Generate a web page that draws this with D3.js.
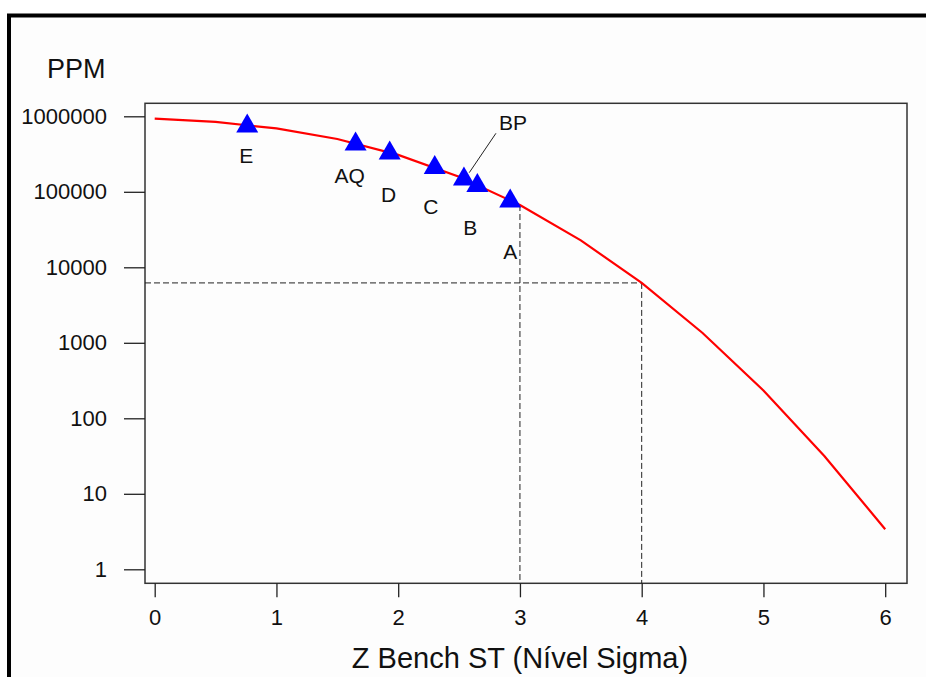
<!DOCTYPE html>
<html>
<head>
<meta charset="utf-8">
<script src="https://cdn.jsdelivr.net/npm/d3@7"></script>
<style>
  html, body { margin: 0; padding: 0; background: #ffffff; }
  svg { display: block; }
  text { font-family: "Liberation Sans", Arial, sans-serif; fill: #111; }
</style>
</head>
<body>
<svg id="chart" width="926" height="677"></svg>
<script>
// ---- data ----
const curveZ   = [0, 0.5, 1, 1.5, 2, 2.5, 3, 3.5, 4, 4.5, 5, 5.5, 6];
const curvePPM = [933193, 841345, 691462, 500000, 308538, 158655, 66807, 22750, 6210, 1350, 233, 31.7, 3.4];

const pointNames = ["E", "AQ", "D", "C", "BP", "B", "A"];
const pointZ     = [0.76, 1.65, 1.93, 2.30, 2.54, 2.65, 2.92];
const pointPPM   = [815000, 471000, 358000, 230000, 162000, 133000, 82800];

const xTicks = [0, 1, 2, 3, 4, 5, 6];
const yTicks = [1, 10, 100, 1000, 10000, 100000, 1000000];
const yTickLabels = ["1", "10", "100", "1000", "10000", "100000", "1000000"];

const refZ = [3, 4];
const refPPM = [66807, 6210];

const xTitle = "Z Bench ST (Nível Sigma)";
const yTitle = "PPM";

// ---- layout (pixels) ----
const frame = { left: 145, top: 103.3, right: 907, bottom: 583.3 };
const labelOffsets = {
  E: [-1, 40], AQ: [-6, 42], D: [-1, 52], C: [-4, 50], BP: [49, -46], B: [-7, 52.5], A: [0, 61]
};
const FONT = '"Liberation Sans", Arial, sans-serif';

const svg = d3.select("#chart");

// outer thick border
svg.append("rect").attr("x", 9).attr("y", 15.5).attr("width", 1000).attr("height", 1000)
  .attr("fill", "#fdfdfd").attr("stroke", "#000").attr("stroke-width", 4);

const x = d3.scaleLinear().domain([0, 6]).range([154.7, 885.2]);
const y = d3.scaleLog().domain([1, 1e6]).range([569.3, 116.3]);

// plot frame
svg.append("rect").attr("x", frame.left).attr("y", frame.top)
  .attr("width", frame.right - frame.left).attr("height", frame.bottom - frame.top)
  .attr("fill", "none").attr("stroke", "#333").attr("stroke-width", 1.5);

// y axis
const yAxis = d3.axisLeft(y).tickValues(yTicks).tickSize(21).tickPadding(17)
  .tickFormat((d, i) => yTickLabels[i]);
const gy = svg.append("g").attr("transform", `translate(${frame.left},0)`).call(yAxis);
gy.select(".domain").remove();
gy.selectAll(".tick line").attr("stroke", "#222").attr("stroke-width", 1.3);
gy.selectAll(".tick text").attr("font-size", 22).attr("fill", "#111").attr("font-family", FONT);

// x axis
const xAxis = d3.axisBottom(x).tickValues(xTicks).tickSize(14).tickPadding(12).tickFormat(d3.format("d"));
const gx = svg.append("g").attr("transform", `translate(0,${frame.bottom})`).call(xAxis);
gx.select(".domain").remove();
gx.selectAll(".tick line").attr("stroke", "#222").attr("stroke-width", 1.3);
gx.selectAll(".tick text").attr("font-size", 22).attr("fill", "#111").attr("font-family", FONT);

// titles
svg.append("text").attr("x", 47).attr("y", 78).attr("font-size", 27).text(yTitle);
svg.append("text").attr("x", 520).attr("y", 668).attr("text-anchor", "middle")
  .attr("font-size", 29).text(xTitle);

// reference dashed lines
const dash = "6,3";
refZ.forEach((z, i) => {
  svg.append("line").attr("x1", x(z)).attr("x2", x(z))
    .attr("y1", y(refPPM[i])).attr("y2", frame.bottom)
    .attr("stroke", "#222").attr("stroke-width", 1).attr("stroke-dasharray", dash);
});
svg.append("line").attr("x1", frame.left).attr("x2", x(refZ[1]))
  .attr("y1", y(refPPM[1])).attr("y2", y(refPPM[1]))
  .attr("stroke", "#222").attr("stroke-width", 1).attr("stroke-dasharray", dash);

// curve
const line = d3.line().x(d => x(d[0])).y(d => y(d[1]));
svg.append("path").datum(curveZ.map((z, i) => [z, curvePPM[i]]))
  .attr("d", line).attr("fill", "none").attr("stroke", "#ff0000").attr("stroke-width", 2.2);

// BP leader line
const bpIdx = pointNames.indexOf("BP");
svg.append("line")
  .attr("x1", x(pointZ[bpIdx]) + 5.3).attr("y1", y(pointPPM[bpIdx]) - 3.3)
  .attr("x2", x(pointZ[bpIdx]) + 32).attr("y2", y(pointPPM[bpIdx]) - 42.7)
  .attr("stroke", "#222").attr("stroke-width", 1);

// triangles
const tri = "M0,-9.5L11,9.5L-11,9.5Z";
svg.append("g").selectAll("path").data(pointNames).join("path")
  .attr("transform", (d, i) => `translate(${x(pointZ[i])},${y(pointPPM[i])})`)
  .attr("d", tri).attr("fill", "#0000ff");

// point labels
svg.append("g").selectAll("text").data(pointNames).join("text")
  .attr("x", (d, i) => x(pointZ[i]) + labelOffsets[d][0])
  .attr("y", (d, i) => y(pointPPM[i]) + labelOffsets[d][1])
  .attr("text-anchor", "middle").attr("font-size", 21).text(d => d);
</script>
</body>
</html>
